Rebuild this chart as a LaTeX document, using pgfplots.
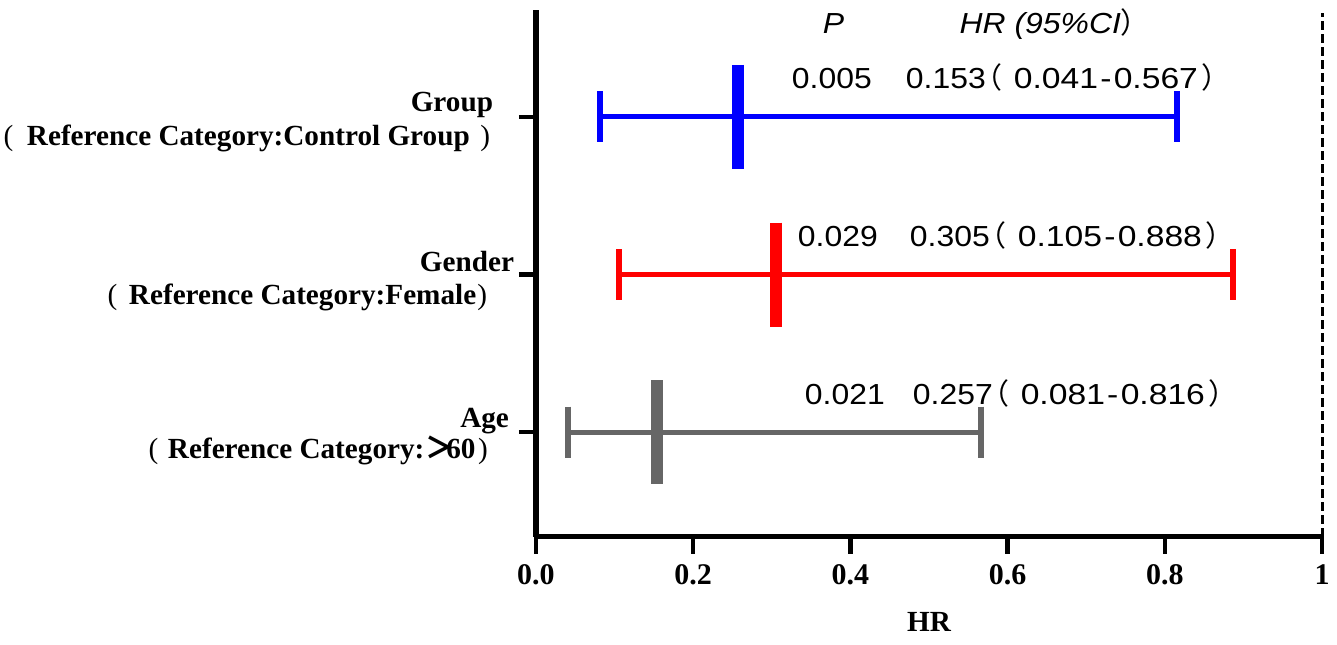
\documentclass[border=0pt]{standalone}
\usepackage{fontspec}
\setmainfont{Liberation Serif}
\newfontfamily\sansf{Liberation Sans}[FakeStretch=1.1]
\newfontfamily\sansw{Liberation Sans}[FakeStretch=1.16]
\newfontfamily\cjk{Noto Sans CJK SC}
\usepackage{pgfplots}
\pgfplotsset{compat=1.18}
\tikzset{t/.style={inner sep=0pt, outer sep=0pt}}
\definecolor{grp}{HTML}{0000FF}
\definecolor{gen}{HTML}{FF0000}
\definecolor{age}{HTML}{666666}
\newcommand{\lab}{\fontsize{14.6}{16}\selectfont\bfseries}
\newcommand{\tlab}{\fontsize{15}{17}\selectfont\bfseries}
\newcommand{\val}{\sansf\fontsize{14.5}{16}\selectfont}
\newcommand{\paren}{\fontsize{14.6}{16}\selectfont\mdseries}
% value string: a(lo-hi)
\newcommand{\ci}[3]{#1\kern-6pt{\cjk（}\kern5.5pt{\sansw#2\kern0.08em-\kern0.08em#3}\kern1.5pt{\cjk）}}
\begin{document}
\begin{tikzpicture}
\path[use as bounding box] (-268pt,-53.75pt) rectangle (400.5pt,268.25pt);
\begin{axis}[
  at={(0,0)}, anchor=south west,
  scale only axis, width=393pt, height=263.25pt,
  xmin=0, xmax=1, ymin=0.337, ymax=3.679,
  axis x line=bottom, axis y line=left,
  axis line style={line width=2.8pt, -, black},
  xtick={0,0.2,0.4,0.6,0.8,1},
  xticklabels={0.0,0.2,0.4,0.6,0.8,1},
  ytick={1,2,3}, yticklabels={},
  tick align=outside, major tick length=8.5pt,
  tick style={line width=2.3pt, black},
  xticklabel style={font=\tlab, yshift=-2pt},
  xlabel={HR}, xlabel style={font=\lab, yshift=-7pt},
  clip=false,
]
% x = 1 reference line
\addplot[black, line width=1.5pt, dash pattern=on 4.5pt off 2pt] coordinates {(1,0.337) (1,3.66)};
% Group (y=3)
\addplot[grp, line width=2.5pt] coordinates {(0.081,3) (0.816,3)};
\addplot[grp, only marks, mark=|, mark size=12.75pt, mark options={line width=3pt}] coordinates {(0.081,3) (0.816,3)};
\addplot[grp, only marks, mark=|, mark size=26pt, mark options={line width=6pt}] coordinates {(0.257,3)};
% Gender (y=2)
\addplot[gen, line width=2.5pt] coordinates {(0.105,2) (0.887,2)};
\addplot[gen, only marks, mark=|, mark size=12.75pt, mark options={line width=3pt}] coordinates {(0.105,2) (0.887,2)};
\addplot[gen, only marks, mark=|, mark size=26pt, mark options={line width=6pt}] coordinates {(0.305,2)};
% Age (y=1)
\addplot[age, line width=2.5pt] coordinates {(0.041,1) (0.566,1)};
\addplot[age, only marks, mark=|, mark size=12.75pt, mark options={line width=3pt}] coordinates {(0.041,1) (0.566,1)};
\addplot[age, only marks, mark=|, mark size=26pt, mark options={line width=6pt}] coordinates {(0.154,1)};
% header
\node[t, anchor=base west, font=\val\itshape] at (axis cs:0.365,3.533) {P};
\node[t, anchor=base west, font=\val\itshape] at (axis cs:0.539,3.533) {HR (95\%CI\cjk{）}};
% values
\node[t, anchor=base west, font=\val] at (axis cs:0.3257,3.178) {0.005};
\node[t, anchor=base west, font=\val] at (axis cs:0.4707,3.178) {\ci{0.153}{0.041}{0.567}};
\node[t, anchor=base west, font=\val] at (axis cs:0.3333,2.178) {0.029};
\node[t, anchor=base west, font=\val] at (axis cs:0.4758,2.178) {\ci{0.305}{0.105}{0.888}};
\node[t, anchor=base west, font=\val] at (axis cs:0.3422,1.178) {0.021};
\node[t, anchor=base west, font=\val] at (axis cs:0.4796,1.178) {\ci{0.257}{0.081}{0.816}};
% category labels
\node[t, anchor=base east, font=\lab] at (axis cs:-0.0547,3.032) {Group};
\node[t, anchor=base west, font=\paren] at (axis cs:-0.6774,2.816) {(};
\node[t, anchor=base west, font=\lab] at (axis cs:-0.6476,2.816) {Reference Category:Control Group};
\node[t, anchor=base east, font=\paren] at (axis cs:-0.0585,2.816) {)};
\node[t, anchor=base east, font=\lab] at (axis cs:-0.028,2.019) {Gender};
\node[t, anchor=base west, font=\paren] at (axis cs:-0.5451,1.809) {(};
\node[t, anchor=base west, font=\lab] at (axis cs:-0.5178,1.809) {Reference Category:Female};
\node[t, anchor=base east, font=\paren] at (axis cs:-0.0623,1.809) {)};
\node[t, anchor=base east, font=\lab] at (axis cs:-0.0344,1.032) {Age};
\node[t, anchor=base west, font=\paren] at (axis cs:-0.4929,0.829) {(};
\node[t, anchor=base west, font=\lab] at (axis cs:-0.4682,0.829) {Reference Category:\kern0.05em{\cjk ＞}\kern-0.3em60};
\node[t, anchor=base east, font=\paren] at (axis cs:-0.0611,0.829) {)};
\end{axis}
\end{tikzpicture}
\end{document}
